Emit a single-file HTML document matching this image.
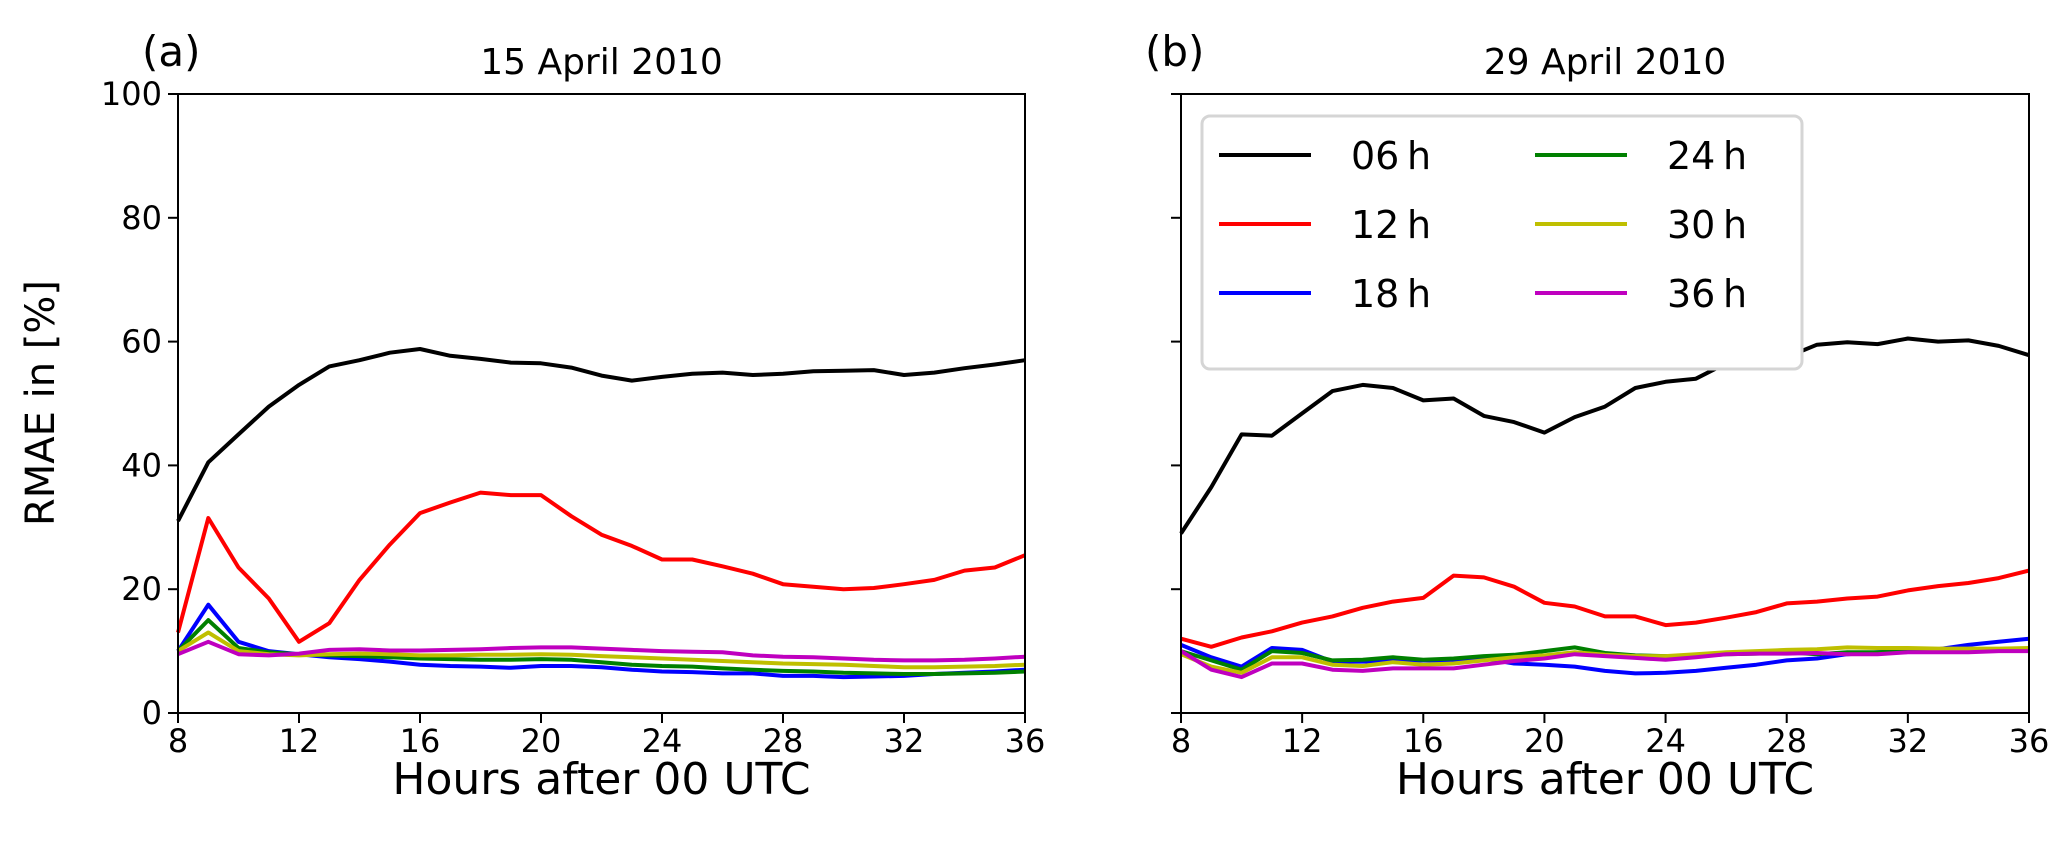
<!DOCTYPE html>
<html><head><meta charset="utf-8"><style>
body{margin:0;background:#fff}
text{font-family:"DejaVu Sans","Liberation Sans",sans-serif;fill:#000}
</style></head><body>
<svg id="chart" width="2067" height="850" xmlns="http://www.w3.org/2000/svg">
<g id="pa"></g>
<g id="pb"></g>
<g id="legend"></g>
</svg>
<script>
const hours=[8,9,10,11,12,13,14,15,16,17,18,19,20,21,22,23,24,25,26,27,28,29,30,31,32,33,34,35,36];
const xTicks=[8,12,16,20,24,28,32,36];
const yTicks=[0,20,40,60,80,100];
const seriesNames=['06h','12h','18h','24h','30h','36h'];
const seriesLabels=['06\u2009h','12\u2009h','18\u2009h','24\u2009h','30\u2009h','36\u2009h'];
const colors=['#000','#ff0000','#0000ff','#008000','#bfbf00','#bf00bf'];
const a06=[31,40.5,45,49.5,53,56,57,58.2,58.8,57.7,57.2,56.6,56.5,55.8,54.5,53.7,54.3,54.8,55,54.6,54.8,55.2,55.3,55.4,54.6,55,55.7,56.3,57];
const a12=[13,31.5,23.5,18.5,11.5,14.5,21.5,27.2,32.3,34,35.6,35.2,35.2,31.8,28.8,27,24.8,24.8,23.7,22.5,20.8,20.4,20,20.2,20.8,21.5,23,23.5,25.5];
const a18=[10,17.5,11.5,10,9.5,9,8.7,8.3,7.8,7.6,7.5,7.3,7.6,7.6,7.4,7,6.7,6.6,6.4,6.4,6,6,5.8,5.9,6,6.3,6.5,6.7,7];
const a24=[10,15,10.5,9.8,9.5,9.3,9.2,9,8.8,8.7,8.6,8.6,8.7,8.6,8.2,7.8,7.6,7.5,7.2,7,6.8,6.7,6.5,6.4,6.3,6.3,6.4,6.5,6.7];
const a30=[10,13,10,9.5,9.3,9.5,9.6,9.5,9.3,9.3,9.4,9.4,9.5,9.4,9.2,9,8.8,8.6,8.4,8.2,8,7.9,7.8,7.6,7.4,7.4,7.5,7.6,7.8];
const a36=[9.5,11.5,9.5,9.3,9.6,10.2,10.3,10.1,10.1,10.2,10.3,10.5,10.6,10.6,10.4,10.2,10,9.9,9.8,9.3,9.1,9,8.8,8.6,8.5,8.5,8.6,8.8,9.1];
const b06=[29,36.5,45,44.8,48.4,52,53,52.5,50.5,50.8,48,47,45.3,47.8,49.5,52.5,53.5,54,56.5,56.5,57.5,59.5,59.9,59.6,60.5,60,60.2,59.3,57.8];
const b12=[12,10.7,12.2,13.2,14.6,15.6,17,18,18.6,22.2,21.9,20.4,17.8,17.2,15.6,15.6,14.2,14.6,15.4,16.3,17.7,18,18.5,18.8,19.8,20.5,21,21.8,23];
const b18=[11,9,7.5,10.5,10.2,8.3,8.3,8.5,8.5,8.5,8.8,8,7.8,7.5,6.8,6.4,6.5,6.8,7.3,7.8,8.5,8.8,9.5,9.8,10,10.3,11,11.5,12];
const b24=[10,8.5,7,10,9.7,8.5,8.6,9,8.6,8.8,9.2,9.4,10,10.6,9.7,9.3,9.2,9.2,9.5,9.6,9.8,9.5,9.8,9.8,10,10.1,10.1,10.3,10.3];
const b30=[9.5,7.5,6.5,9,9,7.8,7.6,8.2,7.8,8,8.5,9,9.3,9.8,9.4,9.2,9.2,9.5,9.8,10,10.2,10.3,10.6,10.5,10.5,10.4,10.4,10.4,10.5];
const b36=[10,7,5.8,8,8,7,6.8,7.2,7.2,7.2,7.8,8.4,8.8,9.5,9.2,8.9,8.6,9,9.5,9.6,9.6,9.7,9.5,9.5,9.8,9.8,9.8,10,10];
const NS='http://www.w3.org/2000/svg';
function mk(p,t,at){const e=document.createElementNS(NS,t);for(const k in at)e.setAttribute(k,at[k]);p.appendChild(e);return e;}
const Y0=713,Y1=94;
function yS(v){return Y0+(Y1-Y0)*v/100;}
function panel(g,x0,x1,data,title,tag,showY){
  const xS=h=>x0+(x1-x0)*(h-8)/28;
  data.forEach((s,i)=>{
    const pts=s.map((v,j)=>xS(hours[j]).toFixed(1)+','+yS(v).toFixed(1)).join(' ');
    const l=mk(g,'polyline',{points:pts,fill:'none',stroke:colors[i],'stroke-width':4,'stroke-linejoin':'round'});
    
    
  });
  const f=mk(g,'rect',{x:x0,y:Y1,width:x1-x0,height:Y0-Y1,fill:'none',stroke:'#000','stroke-width':2});
  
  
  xTicks.forEach(t=>{
    mk(g,'line',{x1:xS(t),x2:xS(t),y1:Y0,y2:Y0+10,stroke:'#000','stroke-width':2});
    const tx=mk(g,'text',{x:xS(t),y:Y0+39,'font-size':32,'text-anchor':'middle'});tx.textContent=t;
    
    
  });
  yTicks.forEach(t=>{
    mk(g,'line',{x1:x0-10,x2:x0,y1:yS(t),y2:yS(t),stroke:'#000','stroke-width':2});
    if(showY){const tx=mk(g,'text',{x:x0-16,y:yS(t)+11,'font-size':32,'text-anchor':'end'});tx.textContent=t;
    
    }
  });
  const xl=mk(g,'text',{x:(x0+x1)/2,y:794,'font-size':44,'text-anchor':'middle'});xl.textContent='Hours after 00 UTC';
  
  
  const tt=mk(g,'text',{x:(x0+x1)/2,y:74,'font-size':36,'text-anchor':'middle'});tt.textContent=title;
  
  
  const tg=mk(g,'text',{x:x0-36,y:66,'font-size':42});tg.textContent=tag;
  
  
}
panel(document.getElementById('pa'),178,1025,[a06,a12,a18,a24,a30,a36],'15 April 2010','(a)',true);
panel(document.getElementById('pb'),1181,2029,[b06,b12,b18,b24,b30,b36],'29 April 2010','(b)',false);
const yl=mk(document.getElementById('chart'),'text',{x:0,y:0,'font-size':40,'text-anchor':'middle',transform:'translate(54,403) rotate(-90)'});
yl.textContent='RMAE in [%]';


const lg=document.getElementById('legend');
mk(lg,'rect',{x:1202,y:116,width:600,height:253,rx:8,fill:'#fff',stroke:'#d5d5d5','stroke-width':3});
seriesNames.forEach((n,i)=>{
  const col=Math.floor(i/3),row=i%3;
  const lx=1219+col*316,ly=155+row*69;
  const e=mk(lg,'g',{});
  
  
  mk(e,'line',{x1:lx,x2:lx+92,y1:ly,y2:ly,stroke:colors[i],'stroke-width':4});
  const t=mk(e,'text',{x:lx+132,y:ly+14,'font-size':38});t.textContent=seriesLabels[i];
});
</script>
</body></html>
